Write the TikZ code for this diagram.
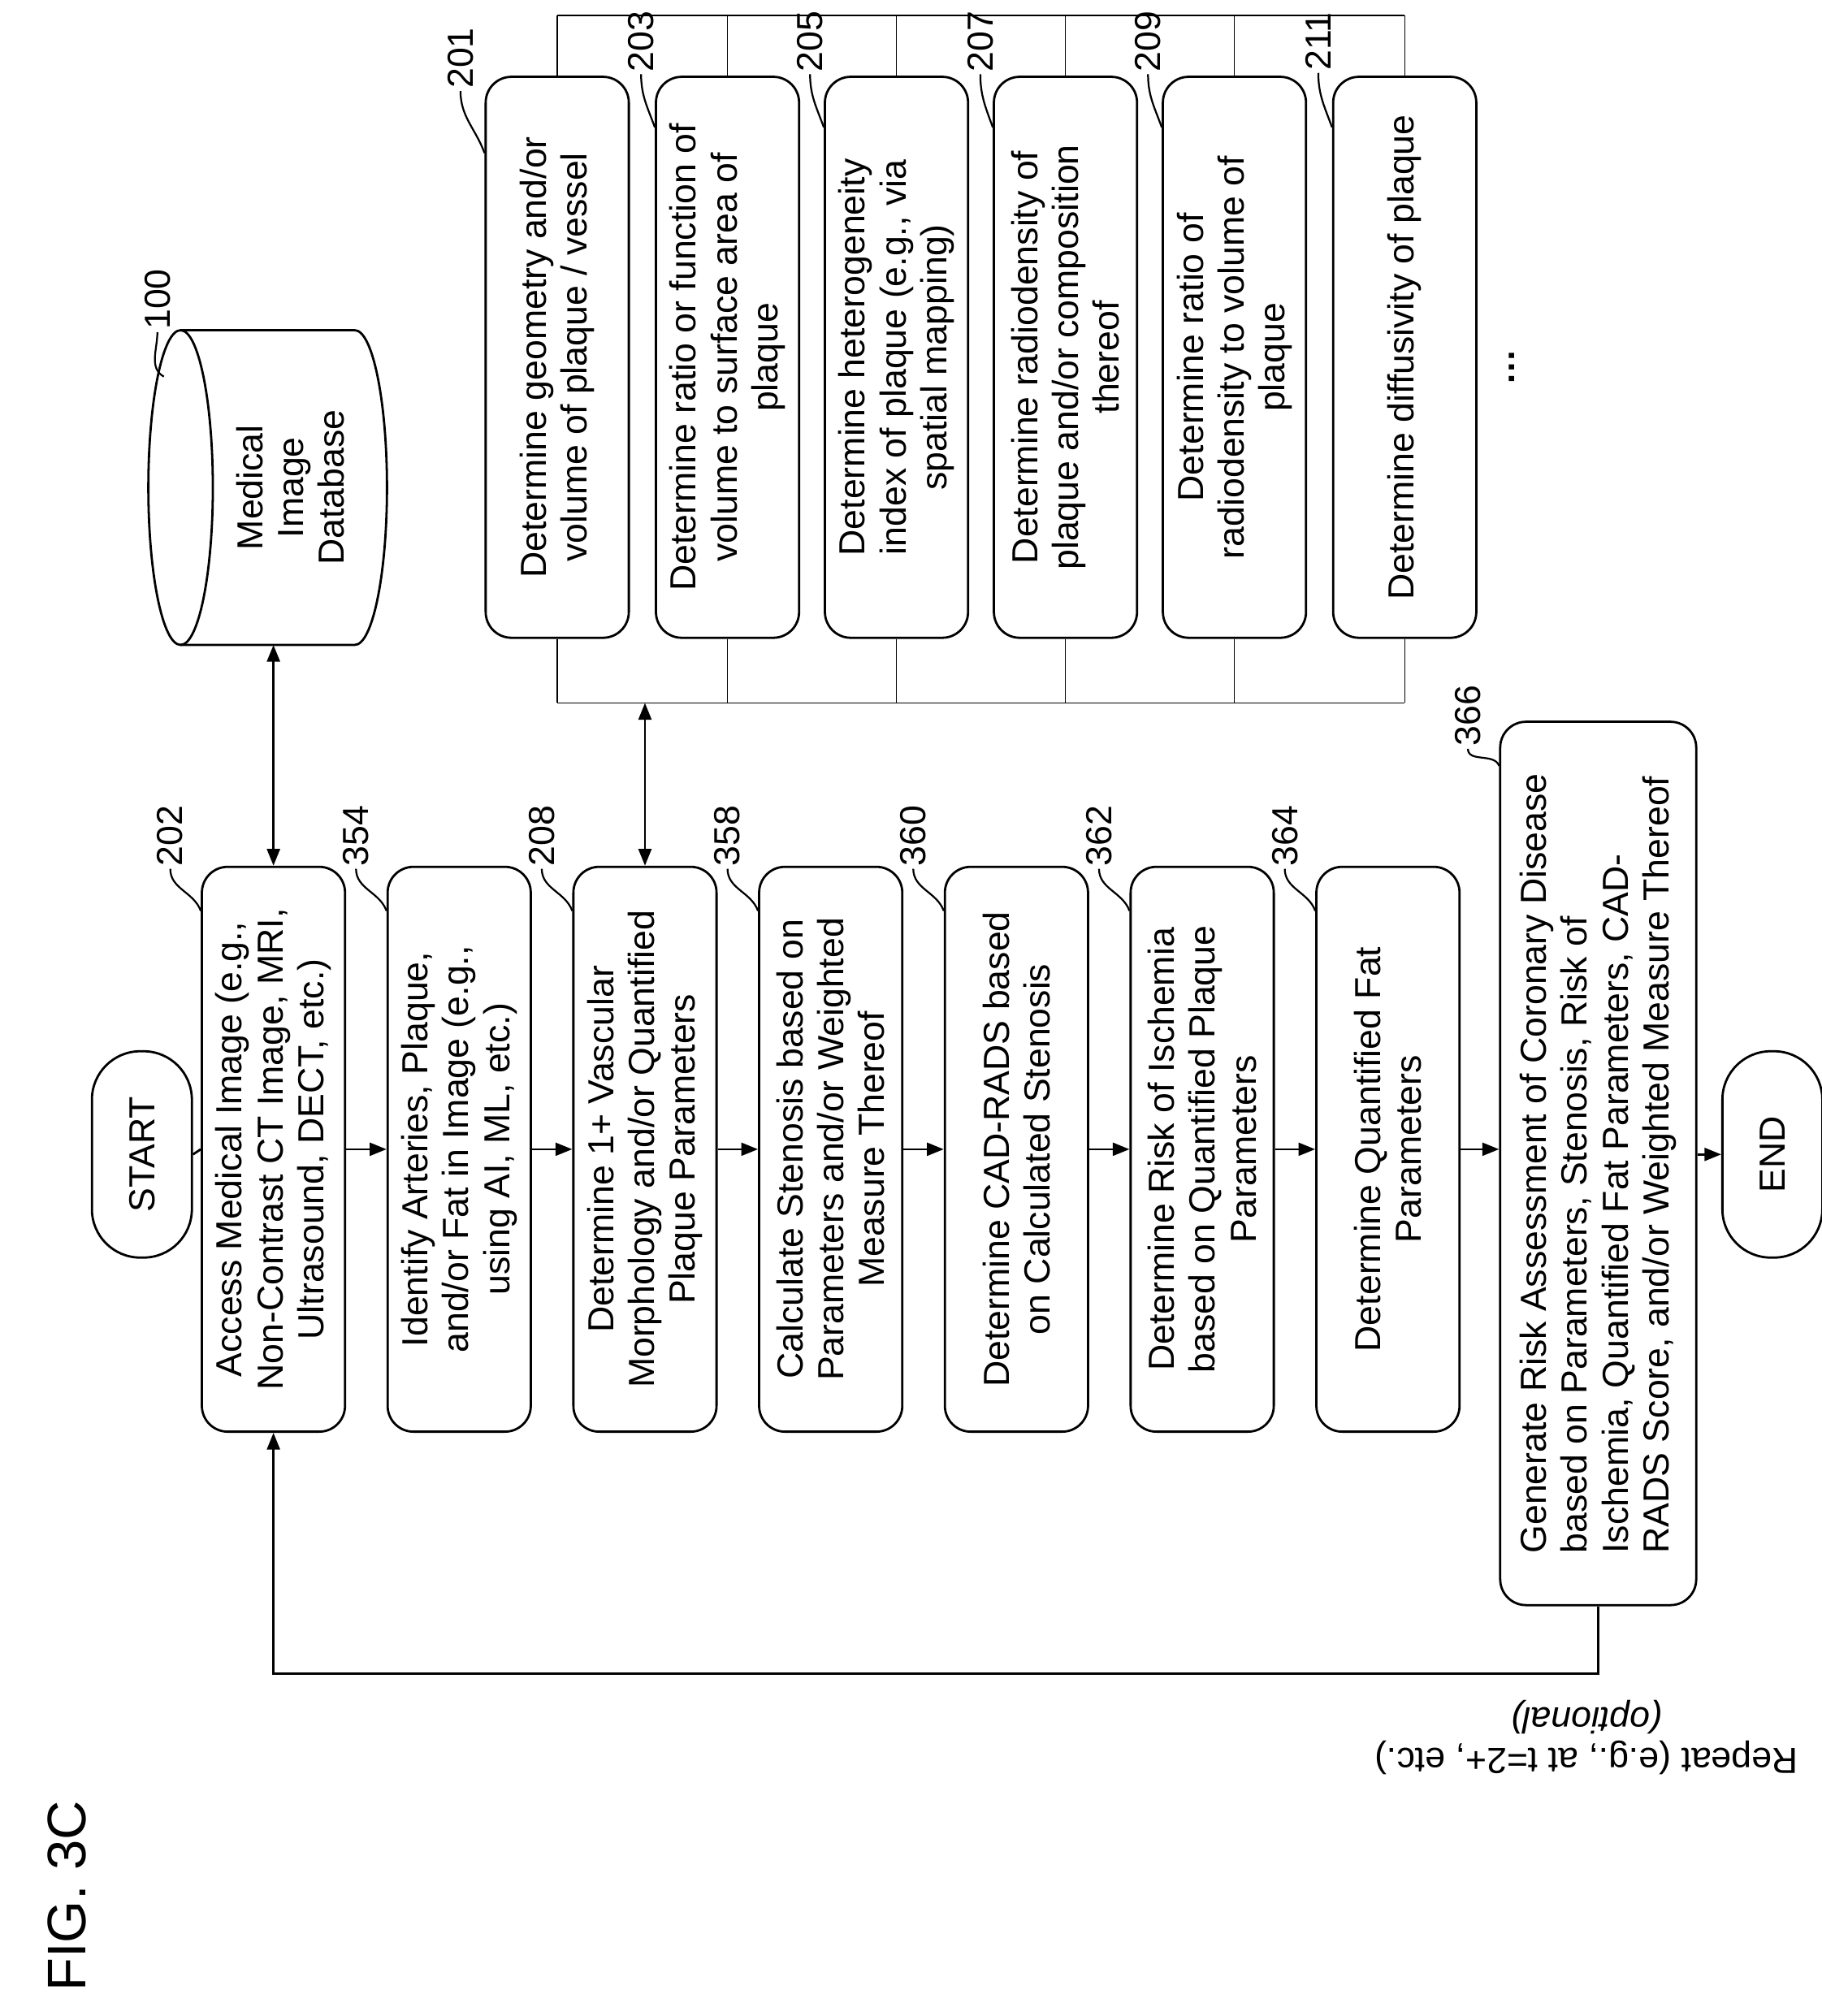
\documentclass[tikz,border=0pt]{standalone}
\usepackage{fontspec}
\setmainfont{Liberation Sans}
\usetikzlibrary{arrows.meta,calc}
\begin{document}
\begin{tikzpicture}[x=0.02cm,y=-0.02cm,
  every node/.style={font=\fontsize{16}{18}\selectfont},
  box/.style={draw,line width=1pt,rounded corners=0.4cm,rotate=90,align=center,inner sep=2pt},
  mbox/.style={box,minimum width=8.76cm,minimum height=2.22cm},
  tbox/.style={box,minimum width=8.7cm,minimum height=2.22cm},
  pill/.style={draw,line width=1pt,rounded corners=0.75cm,rotate=90,minimum width=3.2cm,minimum height=1.55cm},
  lab/.style={rotate=90,inner sep=1pt},
  arr/.style={line width=1pt,-{Triangle[length=0.26cm,width=0.2cm]}},
  darr/.style={line width=1pt,{Triangle[length=0.26cm,width=0.2cm]}-{Triangle[length=0.26cm,width=0.2cm]}},
  lead/.style={line width=0.8pt},
  thin/.style={line width=0.5pt}]
\useasboundingbox (0,0) rectangle (1412,1563);

% main column
\node[pill] (start) at (110,895) {START};
\node[mbox] (n202) at (212,891) {Access Medical Image (e.g.,\\ Non-Contrast CT Image, MRI,\\ Ultrasound, DECT, etc.)};
\node[mbox] (n354) at (356,891) {Identify Arteries, Plaque,\\ and/or Fat in Image (e.g.,\\ using AI, ML, etc.)};
\node[mbox] (n208) at (500,891) {Determine 1+ Vascular\\ Morphology and/or Quantified\\ Plaque Parameters};
\node[mbox] (n358) at (644,891) {Calculate Stenosis based on\\ Parameters and/or Weighted\\ Measure Thereof};
\node[mbox] (n360) at (788,891) {Determine CAD-RADS based\\ on Calculated Stenosis};
\node[mbox] (n362) at (932,891) {Determine Risk of Ischemia\\ based on Quantified Plaque\\ Parameters};
\node[mbox] (n364) at (1076,891) {Determine Quantified Fat\\ Parameters};
\node[box,align=left,minimum width=13.7cm,minimum height=3.04cm] (n366) at (1239,902) {Generate Risk Assessment of Coronary Disease\\ based on Parameters, Stenosis, Risk of\\ Ischemia, Quantified Fat Parameters, CAD-\\ RADS Score, and/or Weighted Measure Thereof};
\node[pill] (end) at (1374,895) {END};

\draw[line width=1pt] (start.south) -- (n202.north);
\draw[arr] (n202.south) -- (n354.north);
\draw[arr] (n354.south) -- (n208.north);
\draw[arr] (n208.south) -- (n358.north);
\draw[arr] (n358.south) -- (n360.north);
\draw[arr] (n360.south) -- (n362.north);
\draw[arr] (n362.south) -- (n364.north);
\draw[arr] (n364.south) -- (n364.south -| n366.north);
\draw[arr] (n366.south |- end) -- (end.north);
\draw[arr] (n366.west) -- ++(0,52) -| (n202.west);

% database cylinder
\draw[line width=1pt] (140,378) ellipse [x radius=25, y radius=122];
\draw[line width=1pt] (140,256) -- (275,256) arc[start angle=-90,end angle=90,x radius=25,y radius=122] -- (140,500);
\node[lab,align=center] (db) at (225,378) {Medical\\ Image\\ Database};
\coordinate (dbb) at (212,500);
\draw[darr] (dbb) -- (n202.east);

% table
\node[tbox] (t201) at (432,277) {Determine geometry and/or\\ volume of plaque / vessel};
\node[tbox] (t203) at (564,277) {Determine ratio or function of\\ volume to surface area of\\ plaque};
\node[tbox] (t205) at (695,277) {Determine heterogeneity\\ index of plaque (e.g., via\\ spatial mapping)};
\node[tbox] (t207) at (826,277) {Determine radiodensity of\\ plaque and/or composition\\ thereof};
\node[tbox] (t209) at (957,277) {Determine ratio of\\ radiodensity to volume of\\ plaque};
\node[tbox] (t211) at (1089,277) {Determine diffusivity of plaque};
\node[lab] (dots) at (1172,285) {\textbf{\dots}};
\coordinate (ttl) at (432,12);
\coordinate (ttr) at (1089,12);
\coordinate (tbl) at (432,545);
\coordinate (tbr) at (1089,545);
\draw[thin] (ttl) -- (ttr);
\draw[thin] (tbl) -- (tbr);
\foreach \n in {t201,t203,t205,t207,t209,t211}{
  \draw[thin] (\n.east) -- (\n.east |- ttl);
  \draw[thin] (\n.west) -- (\n.west |- tbl);
}
\coordinate (tab) at (500,545);
\draw[darr] (tab) -- (n208.east);

% reference labels
\node[lab] (l100) at (122,232) {100};
\draw[lead] (l100.west) to[out=-90,in=150] (127,292);
\node[lab] (l201) at (357,45) {201};
\draw[lead] (l201.west) to[out=-90,in=110] ($(t201.north east)+(0,60)$);
\foreach \l/\n/\x in {203/t203/497,205/t205/628,207/t207/760,209/t209/890,211/t211/1022}{
  \node[lab] (l\l) at (\x,32) {\l};
  \draw[lead] (l\l.west) to[out=-90,in=110] ($(\n.north east)+(0,40)$);
}
\foreach \l/\n/\x in {202/n202/132,354/n354/276,208/n208/420,358/n358/564,360/n360/708,362/n362/852,364/n364/996}{
  \node[lab] (l\l) at (\x,648) {\l};
  \draw[lead] (l\l.west) to[out=-90,in=110] ($(\n.north east)+(0,35)$);
}
\node[lab] (l366) at (1138,555) {366};
\draw[lead] (l366.west) to[out=-90,in=110] ($(n366.north east)+(0,35)$);

\node[rotate=180,align=center] (rep) at (1230,1347) {Repeat (e.g., at t=2+, etc.)\\ \textit{(optional)}};
\node[rotate=90,font=\fontsize{24}{28}\selectfont] (fig) at (52,1470) {FIG. 3C};
\end{tikzpicture}
\end{document}
